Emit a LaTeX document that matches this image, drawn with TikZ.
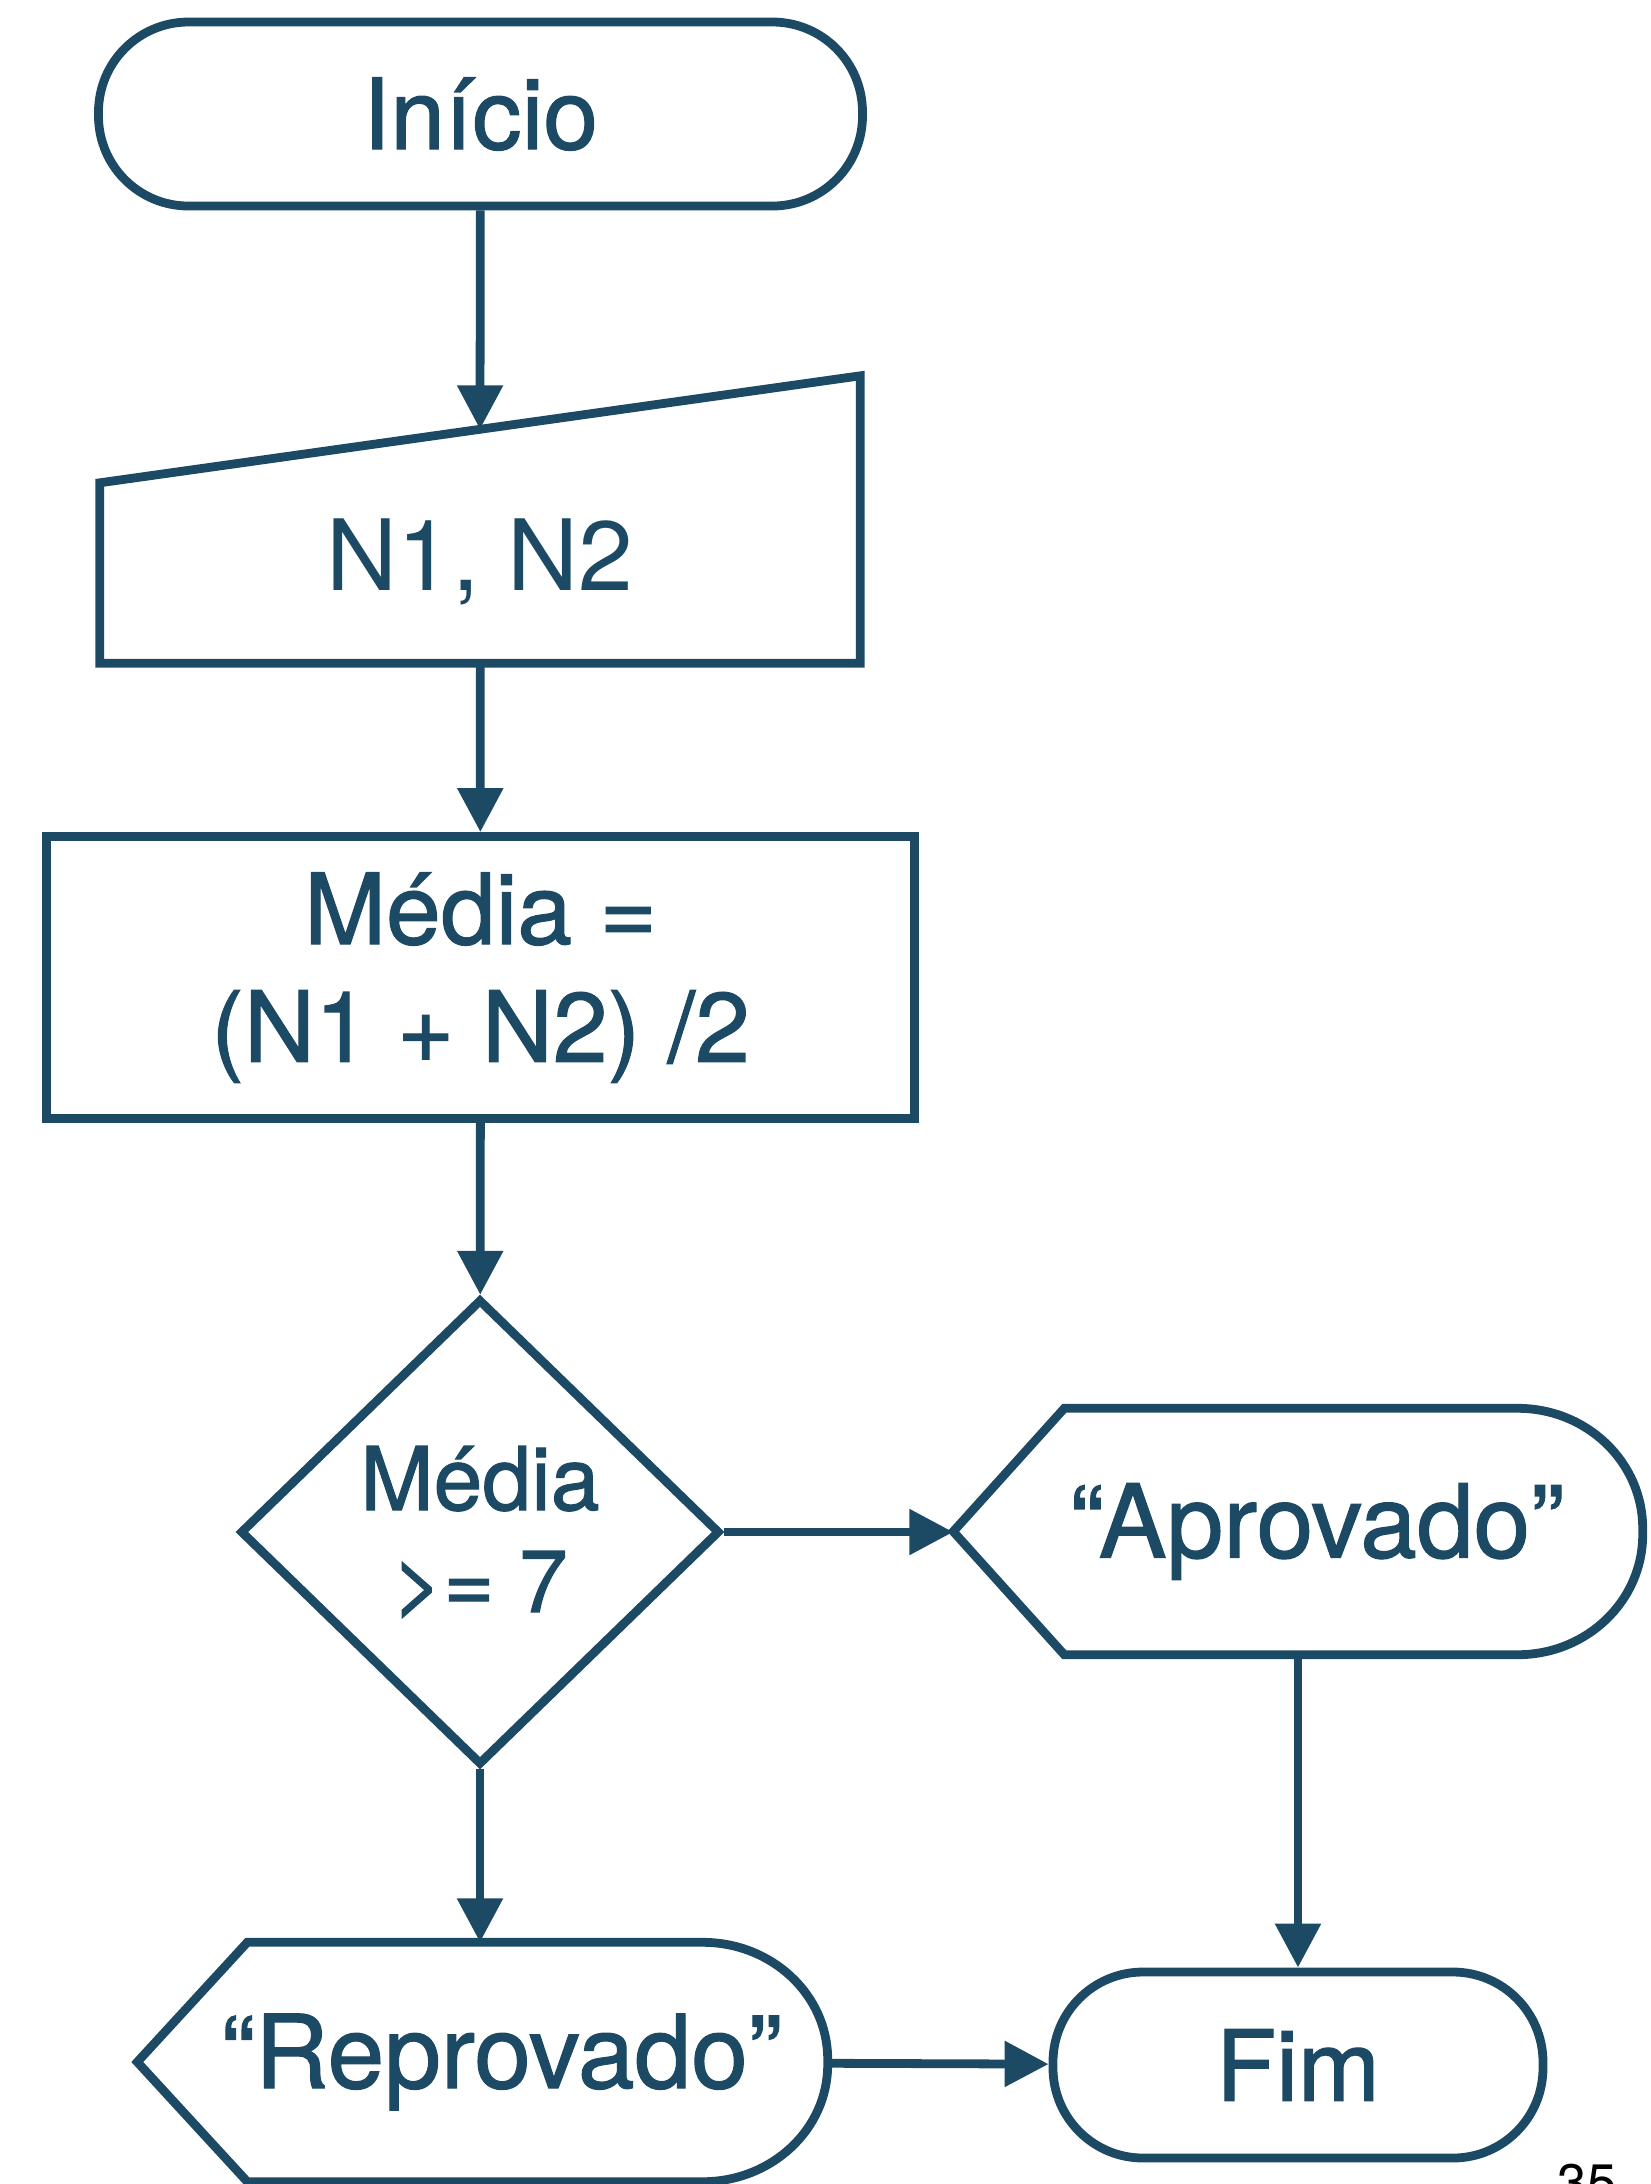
\documentclass[tikz,border=0pt]{standalone}
\usepackage{fontspec}
\setmainfont{TeX Gyre Heros}
\newfontfamily\medio{TeX Gyre Heros}[FakeBold=1.2]
\usetikzlibrary{positioning,arrows.meta,calc,shapes.geometric}
\definecolor{azul}{HTML}{1C4A64}

\begin{document}
\begin{tikzpicture}[
    >={Triangle[length=0.44cm,width=0.44cm]},
    every node/.style={font=\medio\fontsize{28}{34}\selectfont, text=azul},
    linha/.style={draw=azul, line width=2.5pt},
    terminal/.style={linha, rounded corners=0.9cm, minimum height=1.84cm},
    procbox/.style={linha, minimum width=8.68cm, minimum height=2.82cm, align=center, font=\medio\fontsize{28}{33.5}\selectfont},
    formabox/.style={draw=none, inner sep=0pt},
    saidabox/.style={formabox, font=\medio\fontsize{29}{34}\selectfont},
    decisaobox/.style={linha, diamond, aspect=1, inner sep=0pt, minimum width=4.8cm, minimum height=4.66cm, align=center, font=\medio\fontsize{25}{29}\selectfont},
    seta/.style={->, draw=azul, line width=2.5pt},
]
\useasboundingbox (0,0) rectangle (16.5,-21.84);

% ---- Inicio e entrada ----
\node[terminal, minimum width=7.64cm] (inicio) at (4.805,-1.14) {Início};

\node[formabox, minimum width=7.59cm, minimum height=2.86cm] (entrada) at (4.80,-5.195) {};
\draw[linha] (entrada.south west) -- ([yshift=-1.07cm]entrada.north west) -- (entrada.north east) -- (entrada.south east) -- cycle;
\node[font=\fontsize{28}{34}\selectfont] (entradatxt) at ([yshift=-0.42cm]entrada.center) {N1, N2};
\coordinate (entradatopo) at ($([yshift=-1.07cm]entrada.north west)!0.5!(entrada.north east)$);

% ---- Processo e decisao ----
\node[procbox] (processo) at (4.805,-9.775) {Média =\\(N1 + N2) /2};
\node[decisaobox] (decisao) at (4.80,-15.32) {Média\\>= 7};

% ---- Saidas ----
\node[saidabox, minimum width=6.88cm, minimum height=2.45cm] (aprov) at (12.98,-15.315) {\hspace*{0.38cm}“Aprovado”};
\draw[linha] (aprov.west) -- ([xshift=1.11cm]aprov.north west) -- ([xshift=-1.25cm]aprov.north east)
    arc[start angle=90, end angle=0, x radius=1.25cm, y radius=1.2cm] -- ([yshift=1.2cm]aprov.south east)
    arc[start angle=0, end angle=-90, x radius=1.25cm, y radius=1.2cm] -- ([xshift=1.11cm]aprov.south west) -- cycle;

\node[saidabox, minimum width=6.89cm, minimum height=2.38cm] (reprov) at (4.825,-20.62) {\hspace*{0.38cm}“Reprovado”};
\draw[linha] (reprov.west) -- ([xshift=1.10cm]reprov.north west) -- ([xshift=-1.25cm]reprov.north east)
    arc[start angle=90, end angle=0, x radius=1.25cm, y radius=1.17cm] -- ([yshift=1.17cm]reprov.south east)
    arc[start angle=0, end angle=-90, x radius=1.25cm, y radius=1.17cm] -- ([xshift=1.10cm]reprov.south west) -- cycle;

\node[terminal, minimum width=4.90cm, minimum height=1.86cm] (fim) at (12.98,-20.65) {Fim};

% ---- Setas ----
\draw[seta] (inicio) -- (entradatopo);
\draw[seta] (entrada) -- (processo);
\draw[seta] (processo) -- (decisao);
\draw[seta] (decisao.east) -- (decisao.east -| aprov.west);
\draw[seta] (decisao.south) -- (reprov.north -| decisao.south);
\draw[seta] (aprov) -- (fim);
\draw[seta] (reprov) -- (fim);

% numero da pagina (cortado)
\node[font=\fontsize{15}{18}\selectfont, text=black, anchor=north west, inner sep=0pt] (pagina) at (15.57,-21.63) {35};

\end{tikzpicture}
\end{document}
